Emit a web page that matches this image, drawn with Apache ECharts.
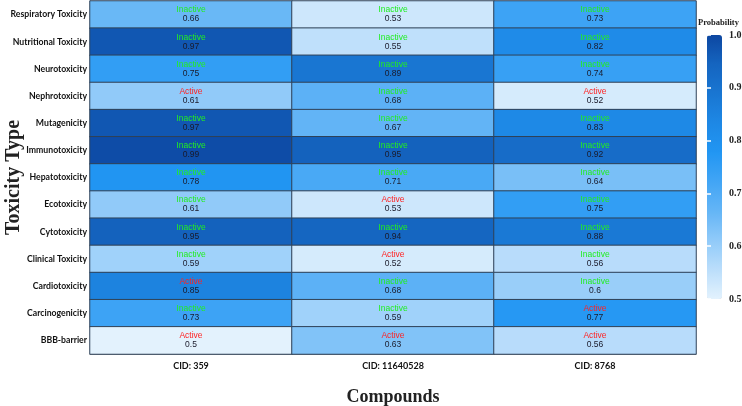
<!DOCTYPE html>
<html>
<head>
<meta charset="utf-8">
<script src="https://cdn.jsdelivr.net/npm/echarts@6/dist/echarts.min.js"></script>
<style>
  html, body { margin: 0; padding: 0; background: #fff; }
  #main { width: 742px; height: 406px; }
</style>
</head>
<body>
<div id="main"></div>
<script>
// categories
var toxicityTypes = ['Respiratory Toxicity', 'Nutritional Toxicity', 'Neurotoxicity', 'Nephrotoxicity',
    'Mutagenicity', 'Immunotoxicity', 'Hepatotoxicity', 'Ecotoxicity', 'Cytotoxicity',
    'Clinical Toxicity', 'Cardiotoxicity', 'Carcinogenicity', 'BBB-barrier'];
var compounds = ['CID: 359', 'CID: 11640528', 'CID: 8768'];

// probability per compound (same order as toxicityTypes)
var probCid359 = [0.66, 0.97, 0.75, 0.61, 0.97, 0.99, 0.78, 0.61, 0.95, 0.59, 0.85, 0.73, 0.5];
var probCid11640528 = [0.53, 0.55, 0.89, 0.68, 0.67, 0.95, 0.71, 0.53, 0.94, 0.52, 0.68, 0.59, 0.63];
var probCid8768 = [0.73, 0.82, 0.74, 0.52, 0.83, 0.92, 0.64, 0.75, 0.88, 0.56, 0.6, 0.77, 0.56];

// prediction per compound
var statusCid359 = ['Inactive', 'Inactive', 'Inactive', 'Active', 'Inactive', 'Inactive', 'Inactive',
    'Inactive', 'Inactive', 'Inactive', 'Active', 'Inactive', 'Active'];
var statusCid11640528 = ['Inactive', 'Inactive', 'Inactive', 'Inactive', 'Inactive', 'Inactive', 'Inactive',
    'Active', 'Inactive', 'Active', 'Inactive', 'Inactive', 'Active'];
var statusCid8768 = ['Inactive', 'Inactive', 'Inactive', 'Active', 'Inactive', 'Inactive', 'Inactive',
    'Inactive', 'Inactive', 'Inactive', 'Inactive', 'Active', 'Active'];

// colour bar ticks
var probTicks = [0.5, 0.6, 0.7, 0.8, 0.9, 1.0];

var probs = [probCid359, probCid11640528, probCid8768];
var states = [statusCid359, statusCid11640528, statusCid8768];
var cells = [];
for (var c = 0; c < compounds.length; c++) {
    for (var r = 0; r < toxicityTypes.length; r++) {
        cells.push([c, r, probs[c][r], states[c][r]]);
    }
}

var myChart = echarts.init(document.getElementById('main'));
var serif = '"Liberation Serif", "DejaVu Serif", serif';
var option = {
    backgroundColor: '#fff',
    animation: false,
    title: {
        text: 'Probability',
        left: 698,
        top: 18,
        padding: 0,
        textStyle: { fontFamily: serif, fontSize: 8.5, fontWeight: 'bold', color: '#222' }
    },
    grid: [
        { left: 90, right: 46, top: 1, bottom: 52, outerBoundsMode: 'none', containLabel: false },
        { left: 707, width: 15, top: 35, height: 264, outerBoundsMode: 'none', containLabel: false }
    ],
    xAxis: [{
        type: 'category',
        data: compounds,
        gridIndex: 0,
        axisLine: { show: true, lineStyle: { color: '#999' } },
        axisTick: { show: false },
        axisLabel: { margin: 8, fontFamily: 'Lato', fontWeight: 'bold', fontSize: 9, color: '#111' },
        name: 'Compounds',
        nameLocation: 'middle',
        nameGap: 34,
        nameMoveOverlap: false,
        nameTextStyle: { fontFamily: serif, fontWeight: 'bold', fontSize: 18, color: '#222' }
    }, {
        type: 'value',
        gridIndex: 1,
        show: false
    }],
    yAxis: [{
        type: 'category',
        data: toxicityTypes,
        gridIndex: 0,
        inverse: true,
        axisLine: { show: true, lineStyle: { color: '#999' } },
        axisTick: { show: false },
        axisLabel: { margin: 3, fontFamily: 'Lato', fontWeight: 'bold', fontSize: 8.7, color: '#111' },
        name: 'Toxicity Type',
        nameLocation: 'middle',
        nameGap: 66,
        nameMoveOverlap: false,
        nameTextStyle: { fontFamily: serif, fontWeight: 'bold', fontSize: 20, color: '#222' }
    }, {
        type: 'value',
        gridIndex: 1,
        position: 'right',
        min: probTicks[0],
        max: probTicks[probTicks.length - 1],
        interval: 0.1,
        z: 10,
        splitLine: { show: false },
        axisLine: { show: false },
        axisTick: { show: true, inside: true, length: 4, lineStyle: { color: '#fff', width: 1.5 } },
        axisLabel: {
            margin: 7, fontFamily: serif, fontWeight: 'bold', fontSize: 10, color: '#222',
            formatter: function (v) { return v.toFixed(1); }
        }
    }, {
        type: 'value',
        gridIndex: 1,
        position: 'left',
        min: probTicks[0],
        max: probTicks[probTicks.length - 1],
        interval: 0.1,
        z: 10,
        splitLine: { show: false },
        axisLine: { show: false },
        axisLabel: { show: false },
        axisTick: { show: true, inside: true, length: 4, lineStyle: { color: '#fff', width: 1.5 } }
    }],
    visualMap: {
        type: 'continuous',
        seriesIndex: 0,
        dimension: 2,
        min: 0.5,
        max: 1.0,
        calculable: false,
        showLabel: false,
        text: null,
        left: 707,
        top: 35,
        padding: 0,
        itemWidth: 15,
        itemHeight: 264,
        inRange: {
            color: ['#E3F2FD', '#BBDEFB', '#90CAF9', '#64B5F6', '#42A5F5', '#2196F3',
                '#1E88E5', '#1976D2', '#1565C0', '#0D47A1']
        }
    },
    series: [{
        type: 'heatmap',
        xAxisIndex: 0,
        yAxisIndex: 0,
        data: cells,
        itemStyle: { borderColor: '#2f4258', borderWidth: 1 },
        emphasis: { disabled: true },
        label: {
            show: true,
            lineHeight: 9,
            formatter: function (p) {
                var s = p.data[3];
                return '{' + (s === 'Active' ? 'act' : 'ina') + '|' + s + '}\n{val|' + p.data[2] + '}';
            },
            rich: {
                act: { color: '#ff2222', fontFamily: '"Liberation Sans", Arial', fontSize: 8.5, lineHeight: 9 },
                ina: { color: '#22ee22', fontFamily: '"Liberation Sans", Arial', fontSize: 8.5, lineHeight: 9 },
                val: { color: '#1a1a2a', fontFamily: '"Liberation Sans", Arial', fontSize: 8.5, lineHeight: 9 }
            }
        }
    }]
};
myChart.setOption(option, true);
</script>
</body>
</html>
